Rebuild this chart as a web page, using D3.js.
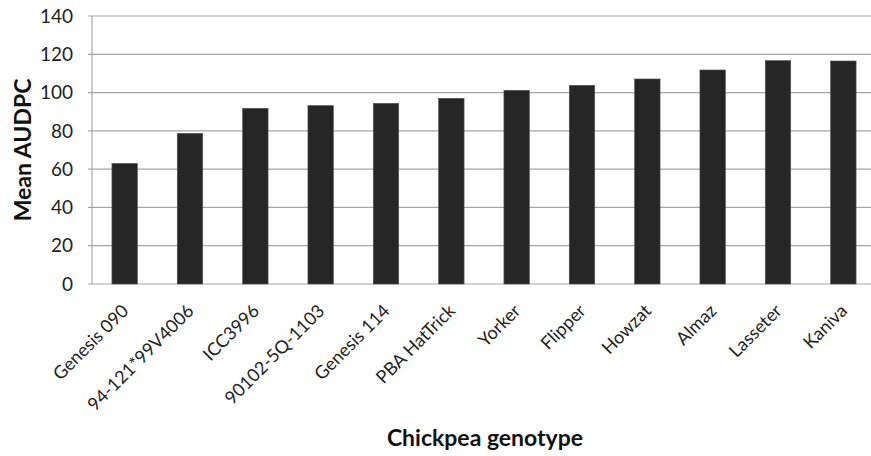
<!DOCTYPE html>
<html><head><meta charset="utf-8">
<script src="https://cdn.jsdelivr.net/npm/d3@7"></script>
<style>html,body{margin:0;padding:0;background:#fff;}svg{display:block;}</style>
</head><body>
<svg id="chart" width="871" height="456"></svg>
<script>
const categories = ["Genesis 090","94-121*99V4006","ICC3996","90102-5Q-1103","Genesis 114","PBA HatTrick","Yorker","Flipper","Howzat","Almaz","Lasseter","Kaniva"];
const values = [63.0,78.7,91.8,93.2,94.4,97.0,101.2,103.8,107.1,111.8,116.7,116.5];
const yTicks = [0,20,40,60,80,100,120,140];
const yTitle = "Mean AUDPC";
const xTitle = "Chickpea genotype";

const svg = d3.select("#chart");
const font = "Lato, 'Open Sans', sans-serif";
const mLeft = 92, mRight = 876, mTop = 16, mBottom = 284;

const x = d3.scaleBand().domain(categories).range([mLeft, mRight]).paddingInner(0.61).paddingOuter(0.305);
const y = d3.scaleLinear().domain([0,140]).range([mBottom, mTop]);

// gridlines
svg.append("g").selectAll("line").data(yTicks).join("line")
  .attr("x1", mLeft - 4).attr("x2", 871)
  .attr("y1", d => y(d)).attr("y2", d => y(d))
  .attr("stroke", "#a6a6a6").attr("stroke-width", 1.2);

// y axis line
svg.append("line").attr("x1", mLeft).attr("x2", mLeft).attr("y1", mTop).attr("y2", mBottom)
  .attr("stroke", "#a6a6a6").attr("stroke-width", 1.2);

// bars
svg.append("g").selectAll("rect").data(values).join("rect")
  .attr("x", (d,i) => x(categories[i]))
  .attr("width", x.bandwidth())
  .attr("y", d => y(d))
  .attr("height", d => y(0) - y(d))
  .attr("fill", "#262626")
  .attr("stroke", "#555").attr("stroke-width", 0.6);

// y tick labels
svg.append("g").selectAll("text").data(yTicks).join("text")
  .attr("x", 73).attr("y", d => y(d)).attr("dy", "0.35em")
  .attr("text-anchor", "end")
  .attr("font-family", font).attr("font-size", 19).attr("fill", "#222")
  .text(d => d);

// x tick labels
svg.append("g").selectAll("text").data(categories).join("text")
  .attr("transform", d => `translate(${x(d) + x.bandwidth()/2 + 5},${312}) rotate(-45)`)
  .attr("text-anchor", "end")
  .attr("font-family", font).attr("font-size", 18).attr("fill", "#222")
  .text(d => d);

// axis titles
svg.append("text")
  .attr("transform", `translate(31,150) rotate(-90)`)
  .attr("text-anchor", "middle")
  .attr("font-family", font).attr("font-size", 23).attr("font-weight", "bold").attr("fill", "#111")
  .text(yTitle);

svg.append("text")
  .attr("x", 485).attr("y", 446)
  .attr("text-anchor", "middle")
  .attr("font-family", font).attr("font-size", 23).attr("font-weight", "bold").attr("fill", "#111")
  .text(xTitle);
</script>
</body></html>
